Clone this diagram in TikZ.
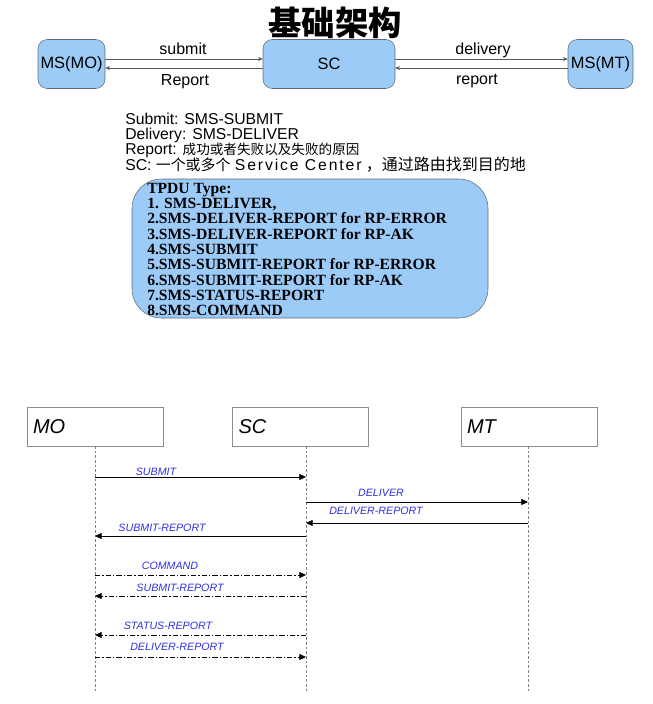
\documentclass[tikz,border=0pt]{standalone}
\usepackage{fontspec}
\setmainfont{Liberation Sans}
\newfontfamily\cjk{Noto Sans CJK SC}
\newfontfamily\tpdufont{Liberation Serif}
\usetikzlibrary{arrows.meta}

\definecolor{boxblue}{HTML}{9CCBF7}
\definecolor{boxedge}{HTML}{5F6B78}
\definecolor{msgblue}{HTML}{3030E0}

\tikzset{
  msnode/.style={draw=boxedge, fill=boxblue, rounded corners=7pt, inner sep=0pt,
    minimum height=36.75pt, font=\fontsize{12.3}{15}\selectfont},
  flow/.style={draw=black!65, line width=0.5pt, -{Stealth[length=3.5pt,width=3pt]}},
  flowlbl/.style={anchor=base, inner sep=0pt, font=\fontsize{12}{14}\selectfont},
  noteline/.style={anchor=base west, inner sep=0pt, font=\fontsize{11.8}{13}\selectfont},
  tpdubox/.style={draw=boxedge, fill=boxblue, rounded corners=22pt,
    minimum width=267pt, minimum height=104.25pt},
  entity/.style={draw=black!45, fill=white, text width=93pt, inner xsep=4.5pt,
    minimum height=29.25pt, align=left, font=\fontsize{15}{18}\selectfont\itshape},
  lifeline/.style={draw=black!50, line width=0.4pt, dash pattern=on 2pt off 1.5pt},
  call/.style={line width=0.6pt, -{Triangle[length=5pt,width=4.5pt]}},
  async/.style={call, dash pattern=on 4pt off 1.5pt on 1pt off 1.5pt},
  msglbl/.style={inner sep=0pt, text=msgblue, font=\fontsize{8}{10}\selectfont\itshape},
}

\begin{document}
\begin{tikzpicture}[x=0.75pt,y=-0.75pt]
\useasboundingbox (0,0) rectangle (653,704);

% architecture
\node[font=\cjk\bfseries\fontsize{25}{30}\selectfont] (title) at (335,23) {基础架构};
\node[msnode, minimum width=50.25pt] (msmo) at (71.5,64) {MS(MO)};
\node[msnode, minimum width=99pt] (sc) at (329,64) {SC};
\node[msnode, minimum width=48.75pt] (msmt) at (600.5,64) {MS(MT)};
\draw[flow] ([yshift=3.75pt]msmo.east) -- ([yshift=3.75pt]sc.west);
\draw[flow] ([yshift=-3pt]sc.west) -- ([yshift=-3pt]msmo.east);
\draw[flow] ([yshift=3.75pt]sc.east) -- ([yshift=3.75pt]msmt.west);
\draw[flow] ([yshift=-3pt]msmt.west) -- ([yshift=-3pt]sc.east);
\node[flowlbl] (lsubmit) at (183,54) {submit};
\node[flowlbl] (lreport) at (185,85) {Report};
\node[flowlbl] (ldelivery) at (483,54) {delivery};
\node[flowlbl] (lreport2) at (477,84) {report};

% notes
\node[noteline] (note1) at (125,124) {Submit: SMS-SUBMIT};
\node[noteline] (note2) at (125,139) {Delivery: SMS-DELIVER};
\node[noteline] (note3) at (125,154) {Report: {\cjk\fontsize{10.2}{12}\selectfont 成功或者失败以及失败的原因}};
\node[noteline] (note4) at (125,170) {SC: {\cjk\fontsize{11.2}{13}\selectfont 一个或多个}
  {\addfontfeature{LetterSpace=12}Service Center} {\cjk\fontsize{12}{13}\selectfont ，通过路由找到目的地}};

\node[tpdubox] (tpdu) at (310,248.5) {};
\node[anchor=north west, inner sep=0pt, align=left,
  font=\tpdufont\bfseries\fontsize{11.7}{11.44}\selectfont] (tpdutext) at (147,183) {TPDU Type:\\
1. SMS-DELIVER,\\
2.SMS-DELIVER-REPORT for RP-ERROR\\
3.SMS-DELIVER-REPORT for RP-AK\\
4.SMS-SUBMIT\\
5.SMS-SUBMIT-REPORT for RP-ERROR\\
6.SMS-SUBMIT-REPORT for RP-AK\\
7.SMS-STATUS-REPORT\\
8.SMS-COMMAND};

% sequence
\node[entity] (mo) at (95,426.5) {MO};
\node[entity] (scent) at (300.5,426.5) {SC};
\node[entity] (mt) at (529,426.5) {MT};
\coordinate (mol) at (95,446);
\coordinate (scl) at (306,446);
\coordinate (mtl) at (528,446);
\draw[lifeline] (mol) -- ++(0,246);
\draw[lifeline] (scl) -- ++(0,246);
\draw[lifeline] (mtl) -- ++(0,246);

\draw[call] (mol |- 0,477) -- (scl |- 0,477);
\node[msglbl] (m1) at (156,472) {SUBMIT};
\draw[call] (scl |- 0,502) -- (mtl |- 0,502);
\node[msglbl] (m2) at (381,493) {DELIVER};
\draw[call] (mtl |- 0,523) -- (scl |- 0,523);
\node[msglbl] (m3) at (376,511) {DELIVER-REPORT};
\draw[call] (scl |- 0,536) -- (mol |- 0,536);
\node[msglbl] (m4) at (162,528) {SUBMIT-REPORT};
\draw[async] (mol |- 0,575) -- (scl |- 0,575);
\node[msglbl] (m5) at (170,566) {COMMAND};
\draw[async] (scl |- 0,596) -- (mol |- 0,596);
\node[msglbl] (m6) at (180,588) {SUBMIT-REPORT};
\draw[async] (scl |- 0,635) -- (mol |- 0,635);
\node[msglbl] (m7) at (168,626) {STATUS-REPORT};
\draw[async] (mol |- 0,657) -- (scl |- 0,657);
\node[msglbl] (m8) at (177,647) {DELIVER-REPORT};
\end{tikzpicture}
\end{document}
